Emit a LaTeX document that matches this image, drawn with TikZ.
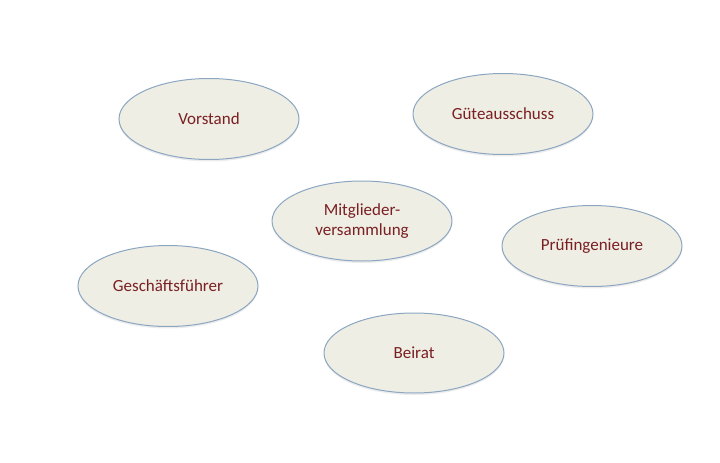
\documentclass[tikz,border=0pt]{standalone}
\usepackage{fontspec}
\setmainfont{Carlito}
\usetikzlibrary{shapes.geometric,shadows}
\definecolor{efill}{HTML}{EEEEE4}
\definecolor{eline}{HTML}{8CA6C2}
\definecolor{etext}{HTML}{7A1F22}
\tikzset{
  oval/.style={ellipse, draw=eline, line width=1pt, fill=efill,
    minimum width=180pt, minimum height=81pt, inner sep=0pt,
    font=\fontsize{17}{20}\selectfont, text=etext, align=center,
    drop shadow={shadow xshift=0pt, shadow yshift=-2pt, opacity=0.15}}
}
\begin{document}
\begin{tikzpicture}[x=1pt,y=-1pt]
\useasboundingbox (0,0) rectangle (720,463);
\node[oval] (vorstand) at (209,119) {Vorstand};
\node[oval] (guete) at (503,114) {Güteausschuss};
\node[oval, minimum height=80pt] (mitglieder) at (362,221) {Mitglieder-\\versammlung};
\node[oval] (pruef) at (592,246) {Prüfingenieure};
\node[oval] (gf) at (168,286) {Geschäftsführer};
\node[oval, minimum height=80pt] (beirat) at (414,353) {Beirat};
\end{tikzpicture}
\end{document}
